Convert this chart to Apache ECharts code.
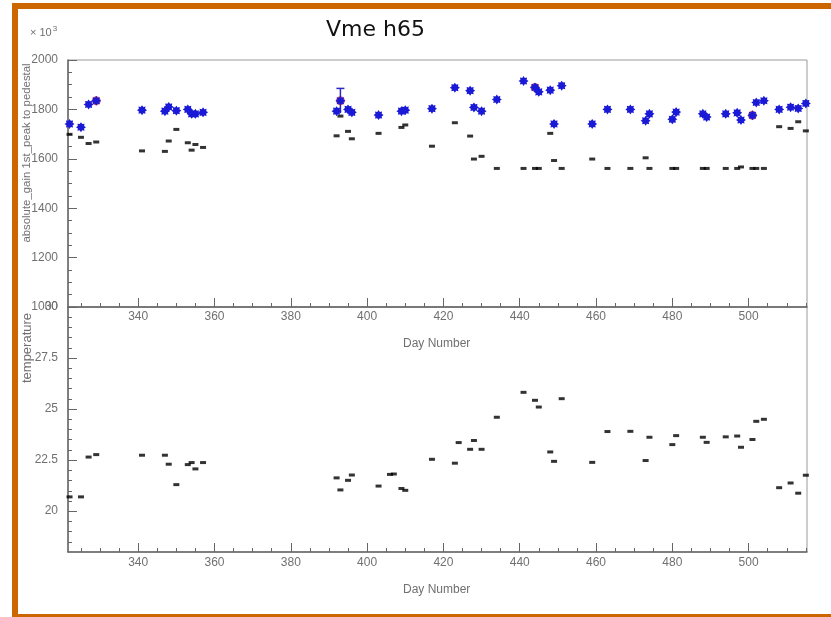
<!DOCTYPE html>
<html>
<head>
<meta charset="utf-8">
<script src="https://cdn.jsdelivr.net/npm/echarts@6/dist/echarts.min.js"></script>
<style>
  html, body { margin: 0; padding: 0; background: #ffffff; }
  #chart { width: 831px; height: 617px; }
</style>
</head>
<body>
<div id="chart"></div>
<script>
// ---------------- data ----------------
const titleText = 'Vme h65';
const xTitle = 'Day Number';
const gainTitle = 'absolute_gain 1st_peak to pedestal';
const tempTitle = 'temperature';

const xMajorTicks = [340, 360, 380, 400, 420, 440, 460, 480, 500];
const xMinorTicks = [325, 330, 335, 340, 345, 350, 355, 360, 365, 370, 375, 380, 385, 390, 395, 400, 405, 410, 415, 420, 425, 430, 435, 440, 445, 450, 455, 460, 465, 470, 475, 480, 485, 490, 495, 500, 505, 510, 515];
const gainMajorTicks = [1000, 1200, 1400, 1600, 1800, 2000];
const gainMinorTicks = [1050, 1100, 1150, 1250, 1300, 1350, 1450, 1500, 1550, 1650, 1700, 1750, 1850, 1900, 1950];
const tempMajorTicks = [20, 22.5, 25, 27.5, 30];
const tempMinorTicks = [18.5, 19, 19.5, 20.5, 21, 21.5, 22, 23, 23.5, 24, 24.5, 25.5, 26, 26.5, 27, 28, 28.5, 29, 29.5];

// blue stars: gain
const gainDays   = [322, 325, 327, 329, 341, 347, 348, 350, 353, 354, 355, 357, 392, 393, 395, 396, 403, 409, 410, 417, 423, 427, 428, 430, 434, 441, 444, 445, 448, 449, 451, 459, 463, 469, 473, 474, 480, 481, 488, 489, 494, 497, 498, 501, 502, 504, 508, 511, 513, 515];
const gainValues = [1741, 1728, 1820, 1835, 1797, 1793, 1810, 1795, 1800, 1782, 1782, 1788, 1793, 1835, 1800, 1788, 1777, 1793, 1797, 1803, 1888, 1876, 1808, 1793, 1840, 1915, 1889, 1871, 1878, 1741, 1896, 1741, 1800, 1800, 1754, 1782, 1760, 1789, 1782, 1769, 1782, 1786, 1757, 1776, 1828, 1835, 1800, 1809, 1804, 1824];

// red circles
const redDays   = [329, 393, 444, 501];
const redValues = [1835, 1835, 1889, 1776];

// error bar
const errDays = [393];
const errLow  = [1785];
const errHigh = [1885];

// black dashes in the gain panel
const lowDays   = [322, 325, 327, 329, 341, 347, 348, 350, 353, 354, 355, 357, 392, 393, 395, 396, 403, 409, 410, 417, 423, 427, 428, 430, 434, 441, 444, 445, 448, 449, 451, 459, 463, 469, 473, 474, 480, 481, 488, 489, 494, 497, 498, 501, 502, 504, 508, 511, 513, 515];
const lowValues = [1699, 1687, 1662, 1668, 1632, 1630, 1672, 1719, 1665, 1635, 1658, 1646, 1693, 1773, 1711, 1681, 1703, 1727, 1737, 1651, 1746, 1692, 1599, 1610, 1561, 1561, 1561, 1561, 1703, 1593, 1561, 1599, 1561, 1561, 1604, 1561, 1561, 1561, 1561, 1561, 1561, 1561, 1567, 1561, 1561, 1561, 1730, 1723, 1750, 1713];

// temperature
const tempDays   = [322, 325, 327, 329, 341, 347, 348, 350, 353, 354, 355, 357, 392, 393, 395, 396, 403, 406, 407, 409, 410, 417, 423, 424, 427, 428, 430, 434, 441, 444, 445, 448, 449, 451, 459, 463, 469, 473, 474, 480, 481, 488, 489, 494, 497, 498, 501, 502, 504, 508, 511, 513, 515];
const tempValues = [20.70, 20.70, 22.65, 22.77, 22.74, 22.74, 22.30, 21.30, 22.28, 22.38, 22.07, 22.38, 21.63, 21.04, 21.51, 21.77, 21.23, 21.80, 21.82, 21.11, 21.02, 22.54, 22.35, 23.36, 23.03, 23.46, 23.03, 24.60, 25.82, 25.43, 25.10, 22.90, 22.44, 25.51, 22.39, 23.90, 23.91, 22.48, 23.62, 23.26, 23.70, 23.62, 23.37, 23.64, 23.68, 23.13, 23.51, 24.40, 24.50, 21.15, 21.38, 20.88, 21.76];

// ---------------- chart ----------------
const zip = (a, b) => a.map((d, i) => [d, b[i]]);
const FONT = '"Liberation Sans", Arial, sans-serif';
const AX = '#666666';
const TXT = '#707070';
const ORANGE = '#cc6600';

const starPath = 'path://M1 0 L0.62 0.26 L0.707 0.707 L0.26 0.62 L0 1 L-0.26 0.62 L-0.707 0.707 L-0.62 0.26 L-1 0 L-0.62 -0.26 L-0.707 -0.707 L-0.26 -0.62 L0 -1 L0.26 -0.62 L0.707 -0.707 L0.62 -0.26 Z';

function majorX(gridIndex, margin) {
  return {
    type: 'value', gridIndex, position: 'bottom', min: 321.6, max: 515.3,
    axisLine: { show: true, lineStyle: { color: AX, width: 1.5 } },
    axisTick: { show: true, inside: true, length: 9, customValues: xMajorTicks, lineStyle: { color: AX } },
    axisLabel: { show: true, customValues: xMajorTicks, margin, color: TXT, fontSize: 12, fontFamily: FONT, formatter: v => String(v) },
    splitLine: { show: false }
  };
}
function minorX(gridIndex) {
  return {
    type: 'value', gridIndex, position: 'bottom', min: 321.6, max: 515.3,
    axisLine: { show: false },
    axisTick: { show: true, inside: true, length: 4, customValues: xMinorTicks, lineStyle: { color: AX } },
    axisLabel: { show: false },
    splitLine: { show: false }
  };
}
function majorY(gridIndex, min, max, ticks) {
  return {
    type: 'value', gridIndex, position: 'left', min, max,
    axisLine: { show: true, lineStyle: { color: AX, width: 1.5 } },
    axisTick: { show: true, inside: true, length: 9, customValues: ticks, lineStyle: { color: AX } },
    axisLabel: { show: true, customValues: ticks, margin: 10, color: TXT, fontSize: 12, fontFamily: FONT, formatter: v => String(v) },
    splitLine: { show: false }
  };
}
function minorY(gridIndex, min, max, ticks) {
  return {
    type: 'value', gridIndex, position: 'left', min, max,
    axisLine: { show: false },
    axisTick: { show: true, inside: true, length: 4, customValues: ticks, lineStyle: { color: AX } },
    axisLabel: { show: false },
    splitLine: { show: false }
  };
}

const chart = echarts.init(document.getElementById('chart'), null, { renderer: 'canvas' });
chart.setOption({
  animation: false,
  backgroundColor: '#ffffff',
  title: {
    text: titleText, left: 321, top: 14,
    textStyle: { fontFamily: '"DejaVu Sans", sans-serif', fontSize: 22, fontWeight: 'normal', color: '#111' }
  },
  grid: [
    { left: 68, top: 60, width: 739, height: 247, show: true, borderColor: '#9a9a9a', borderWidth: 1, outerBoundsMode: 'none' },
    { left: 68, top: 307, width: 739, height: 245, show: true, borderColor: '#9a9a9a', borderWidth: 1, outerBoundsMode: 'none' }
  ],
  xAxis: [majorX(0, 4), minorX(0), majorX(1, 5), minorX(1)],
  yAxis: [
    majorY(0, 1000, 2000, gainMajorTicks), minorY(0, 1000, 2000, gainMinorTicks),
    majorY(1, 18, 30, tempMajorTicks), minorY(1, 18, 30, tempMinorTicks)
  ],
  graphic: [
    { type: 'rect', shape: { x: 12, y: 3, width: 6, height: 614 }, style: { fill: ORANGE }, silent: true },
    { type: 'rect', shape: { x: 12, y: 3, width: 819, height: 6 }, style: { fill: ORANGE }, silent: true },
    { type: 'rect', shape: { x: 12, y: 614, width: 819, height: 3 }, style: { fill: ORANGE }, silent: true },
    { type: 'text', x: 30, y: 33, style: {
        text: '× 10{s|3}', fill: TXT, fontSize: 11, fontFamily: FONT, textVerticalAlign: 'middle',
        rich: { s: { fontSize: 8, fill: TXT, fontFamily: FONT, verticalAlign: 'top', padding: [0, 0, 8, 1] } } } },
    { type: 'text', x: 27, y: 153, rotation: Math.PI / 2, style: {
        text: gainTitle, fill: TXT, fontSize: 11.4, fontFamily: FONT, textAlign: 'center', textVerticalAlign: 'middle' } },
    { type: 'text', x: 27, y: 348, rotation: Math.PI / 2, style: {
        text: tempTitle, fill: TXT, fontSize: 13, fontFamily: FONT, textAlign: 'center', textVerticalAlign: 'middle' } },
    { type: 'text', x: 403, y: 344, style: {
        text: xTitle, fill: TXT, fontSize: 12, fontFamily: FONT, textVerticalAlign: 'middle' } },
    { type: 'text', x: 403, y: 590, style: {
        text: xTitle, fill: TXT, fontSize: 12, fontFamily: FONT, textVerticalAlign: 'middle' } }
  ],
  series: [
    {
      name: 'low', type: 'scatter', xAxisIndex: 0, yAxisIndex: 0, z: 2,
      symbol: 'rect', symbolSize: [6, 3], itemStyle: { color: '#000000' },
      data: zip(lowDays, lowValues)
    },
    {
      name: 'red', type: 'scatter', xAxisIndex: 0, yAxisIndex: 0, z: 3,
      symbol: 'circle', symbolSize: 9, itemStyle: { color: '#d83a4a' },
      data: zip(redDays, redValues)
    },
    {
      name: 'err', type: 'custom', xAxisIndex: 0, yAxisIndex: 0, z: 3,
      data: errDays.map((d, i) => [d, errLow[i], errHigh[i]]),
      encode: { x: 0, y: [1, 2] },
      renderItem: function (params, api) {
        const lo = api.coord([api.value(0), api.value(1)]);
        const hi = api.coord([api.value(0), api.value(2)]);
        const st = { stroke: '#2a2ac8', lineWidth: 1.5 };
        return { type: 'group', children: [
          { type: 'line', shape: { x1: lo[0], y1: lo[1], x2: hi[0], y2: hi[1] }, style: st },
          { type: 'line', shape: { x1: hi[0] - 4, y1: hi[1], x2: hi[0] + 4, y2: hi[1] }, style: st }
        ] };
      }
    },
    {
      name: 'gain', type: 'scatter', xAxisIndex: 0, yAxisIndex: 0, z: 4,
      symbol: starPath, symbolSize: 10, itemStyle: { color: '#1a1ad6', opacity: 1 },
      data: zip(gainDays, gainValues)
    },
    {
      name: 'temperature', type: 'scatter', xAxisIndex: 2, yAxisIndex: 2, z: 2,
      symbol: 'rect', symbolSize: [6, 3], itemStyle: { color: '#000000' },
      data: zip(tempDays, tempValues)
    }
  ]
});
</script>
</body>
</html>
